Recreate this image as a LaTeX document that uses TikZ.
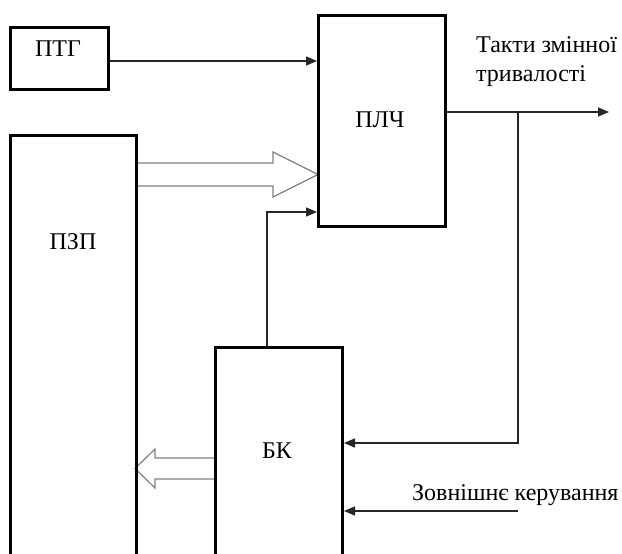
\documentclass[tikz,border=0pt]{standalone}
\usepackage{fontspec}
\setmainfont{Liberation Serif}
\usetikzlibrary{arrows.meta,calc}
\begin{document}
\begin{tikzpicture}[x=1pt,y=-1pt,
  blk/.style={draw=black,line width=3pt,inner sep=0pt,anchor=north west},
  wire/.style={draw=black!85,line width=1.3pt},
  arr/.style={wire,-{Triangle[length=11pt,width=9pt]}},
  bus/.style={draw=black!50,line width=1.2pt,line join=miter},
  lbl/.style={font=\fontsize{24}{29}\selectfont,inner sep=0pt}]
\useasboundingbox (0,0) rectangle (622,554);
% bus arrows (drawn first, boxes on top)
\coordinate (b1s) at (135,174.5);
\coordinate (b2s) at (214,468.5);
\draw[bus] ($(b1s)+(0,-11.5)$) -- ++(138,0) -- ++(0,-11) -- ++(45,22.5) -- ++(-45,22.5) -- ++(0,-11) -- ++(-138,0);
\draw[bus] ($(b2s)+(0,-10.5)$) -- ++(-59,0) -- ++(0,-9) -- ++(-20,19.5) -- ++(20,19.5) -- ++(0,-9) -- ++(59,0);
% boxes
\node[blk,minimum width=98pt,minimum height=62pt] (ptg) at (9,26) {};
\node[blk,minimum width=127pt,minimum height=211pt] (plch) at (317,14) {};
\node[blk,minimum width=126pt,minimum height=440pt] (pzp) at (9,134) {};
\node[blk,minimum width=127pt,minimum height=230pt] (bk) at (214,346) {};
% labels
\node[lbl] (tptg) at (58,49) {ПТГ};
\node[lbl] (tplch) at (380,120) {ПЛЧ};
\node[lbl] (tpzp) at (73,242) {ПЗП};
\node[lbl] (tbk) at (277,451) {БК};
\node[lbl,align=left,anchor=west] (ttakt) at (476,62) {Такти змінної\\тривалості};
\node[lbl,anchor=west] (tzovn) at (412,495) {Зовнішнє керування};
% connectors
\draw[arr] (ptg.east |- 0,61) -- (plch.west |- 0,61);
\coordinate (out) at (609,112);
\coordinate (br) at (518,112);
\coordinate (ext) at (518,511);
\draw[arr] (plch.east |- out) -- (out);
\draw[arr] (br) |- (bk.east |- 0,443);
\draw[arr] (ext) -- (bk.east |- ext);
\draw[arr] (bk.north -| 267,0) |- (plch.west |- 0,212);
\end{tikzpicture}
\end{document}
